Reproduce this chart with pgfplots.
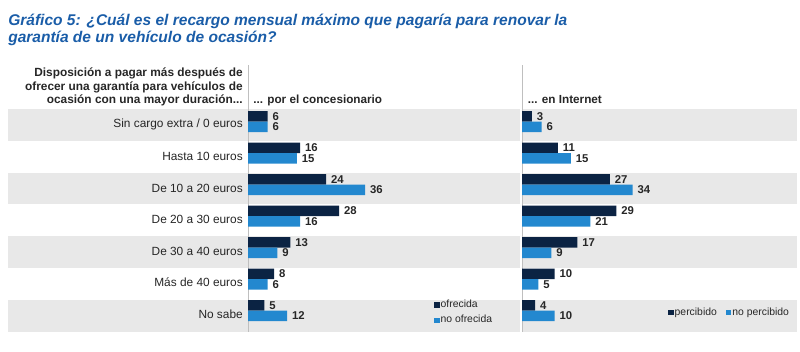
\documentclass[border=0pt]{standalone}
\usepackage{fontspec}
\setmainfont{Liberation Sans}
\usepackage{pgfplots}
\pgfplotsset{compat=1.18}
\definecolor{navy}{HTML}{0B2343}
\definecolor{lblue}{HTML}{2388CF}
\definecolor{band}{HTML}{E8E8E8}
\definecolor{ttl}{HTML}{1A5DA8}
\definecolor{axline}{HTML}{BFBFBF}
\definecolor{txt}{HTML}{262626}
\pgfplotsset{
  panel/.style={
    scale only axis, height=165.375pt,
    xbar, bar width=7.875pt,
    xmin=0, ymin=-0.5, ymax=6.5, y dir=reverse,
    axis line style={draw=none},
    xtick=\empty, ytick={0,...,6}, major tick length=0pt,
    yticklabels={},
    nodes near coords,
    /pgf/number format/assume math mode=true,
    nodes near coords style={font=\fontsize{8.5}{9}\selectfont\bfseries, text=txt, anchor=west, inner sep=0pt, xshift=3.6pt},
    legend image code/.code={\fill[##1] (0pt,-2pt) rectangle (4pt,2pt);},
    legend cell align=left,
  },
}
\begin{document}
\begin{tikzpicture}
\begin{scope}[x=0.75pt,y=-0.75pt]
\path[use as bounding box] (0,0) rectangle (800,351);
\foreach \i in {0,2,4,6} {
  \fill[band] (8,{109+\i*31.85}) rectangle (520,{109+\i*31.85+31.6});
  \fill[band] (523,{109+\i*31.85}) rectangle (797,{109+\i*31.85+31.6});
}
\draw[axline, line width=0.75pt] (248,65) -- (248,332);
\draw[axline, line width=0.75pt] (522,65) -- (522,332);
\node[anchor=base west, inner sep=0pt, font=\fontsize{11.65}{13}\selectfont\bfseries\itshape, text=ttl] at (8,25.5) {Gráfico 5: ¿Cuál es el recargo mensual máximo que pagaría para renovar la};
\node[anchor=base west, inner sep=0pt, font=\fontsize{11.65}{13}\selectfont\bfseries\itshape, text=ttl] at (8,42.5) {garantía de un vehículo de ocasión?};
\node[anchor=base east, inner sep=0pt, font=\fontsize{8.9}{9}\selectfont\bfseries, text=txt] at (243,76) {Disposición a pagar más después de};
\node[anchor=base east, inner sep=0pt, font=\fontsize{8.9}{9}\selectfont\bfseries, text=txt] at (243,90.5) {ofrecer una garantía para vehículos de};
\node[anchor=base east, inner sep=0pt, font=\fontsize{8.9}{9}\selectfont\bfseries, text=txt] at (243,103.5) {ocasión con una mayor duración...};
\node[anchor=base west, inner sep=0pt, font=\fontsize{8.8}{9}\selectfont\bfseries, text=txt] at (253,103.5) {... por el concesionario};
\node[anchor=base west, inner sep=0pt, font=\fontsize{8.8}{9}\selectfont\bfseries, text=txt] at (527.5,103.5) {... en Internet};
\end{scope}

\begin{axis}[panel, at={(186pt,-244.84pt)}, anchor=south west,
  width=201pt, xmax=82.46,
  yticklabels={Sin cargo extra / 0 euros, Hasta 10 euros, De 10 a 20 euros, De 20 a 30 euros, De 30 a 40 euros, Más de 40 euros, No sabe},
  yticklabel style={font=\fontsize{8.9}{10}\selectfont, text=txt, anchor=east, inner sep=0pt, xshift=-3.75pt, yshift=-2.4pt},
  legend style={at={(0.694,0.063)}, anchor=west, draw=none, fill=none, inner sep=0pt,
    font=\fontsize{7.8}{8}\selectfont, text=txt, row sep=3pt,
    nodes={inner sep=0.8pt, text height=5.5pt, text depth=1.5pt}},
]
\addplot[fill=navy, draw=none, bar shift=3.9375pt] coordinates {(6,0) (16,1) (24,2) (28,3) (13,4) (8,5) (5,6)};
\addplot[fill=lblue, draw=none, bar shift=-3.9375pt] coordinates {(6,0) (15,1) (36,2) (16,3) (9,4) (6,5) (12,6)};
\legend{ofrecida, no ofrecida}
\end{axis}

\begin{axis}[panel, at={(391.5pt,-244.84pt)}, anchor=south west,
  width=206.25pt, xmax=84.6,
  legend columns=2,
  legend style={at={(0.531,0.062)}, anchor=west, draw=none, fill=none, inner sep=0pt,
    font=\fontsize{7.8}{8}\selectfont, text=txt,
    nodes={inner sep=0.8pt, text height=5.5pt, text depth=1.5pt},
    /tikz/every even column/.append style={column sep=6pt}},
]
\addplot[fill=navy, draw=none, bar shift=3.9375pt] coordinates {(3,0) (11,1) (27,2) (29,3) (17,4) (10,5) (4,6)};
\addplot[fill=lblue, draw=none, bar shift=-3.9375pt] coordinates {(6,0) (15,1) (34,2) (21,3) (9,4) (5,5) (10,6)};
\legend{percibido, no percibido}
\end{axis}
\end{tikzpicture}
\end{document}
